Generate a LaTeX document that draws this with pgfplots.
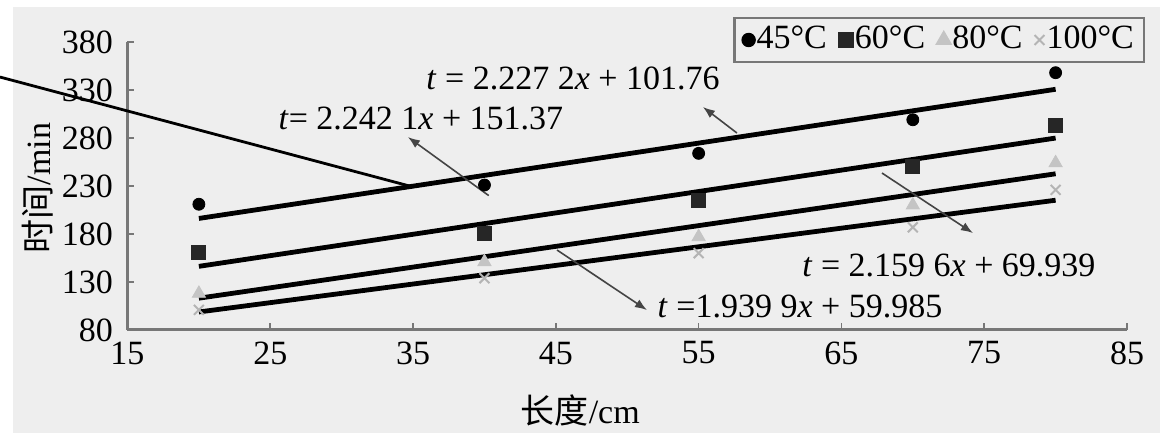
\documentclass[border=0pt]{standalone}
\usepackage{pgfplots}
\pgfplotsset{compat=1.18}
\usetikzlibrary{arrows.meta}
\usepackage{fontspec}
\setmainfont{Liberation Serif}
\newfontfamily\cjk{Noto Sans CJK SC}
\definecolor{bg}{HTML}{EEEEEE}
\definecolor{axisgray}{HTML}{777777}
\definecolor{arrowgray}{HTML}{444444}
\definecolor{trimark}{HTML}{C4C4C4}
\definecolor{xmark}{HTML}{B4B4B4}
\newcommand{\lbl}{\fontsize{17}{20}\selectfont}
\begin{document}
\lbl
\begin{tikzpicture}
\useasboundingbox (-63.75pt,-51.5pt) rectangle (522.75pt,165pt);
\fill[white] (-63.75pt,-51.5pt) rectangle (522.75pt,165pt);
\fill[bg] (-57.25pt,-51.5pt) rectangle (516.25pt,161.5pt);
\begin{axis}[
  scale only axis,
  width=499.75pt, height=144pt,
  xmin=15, xmax=85, ymin=80, ymax=380,
  xtick={15,25,...,85}, ytick={80,130,...,380},
  axis lines=left,
  axis line style={-, axisgray, line width=1.5pt},
  tick align=inside,
  major tick length=3.5pt,
  tick style={axisgray, line width=0.8pt},
  tick label style={font=\lbl, text=black},
  /pgf/number format/assume math mode=true,
  yticklabel shift=1.5pt,
  label style={font=\lbl},
  xlabel={{\cjk 长度}/cm},
  ylabel={{\cjk 时间}/min},
  xlabel style={at={(rel axis cs:0.453,0)}, anchor=center, yshift=-40pt},
  ylabel style={at={(rel axis cs:-0.0895,0.493)}, anchor=center},
  clip=false,
  legend columns=4,
  legend style={at={(1.018,1.087)}, anchor=north east, draw=axisgray,
    line width=1.2pt, fill=bg, font=\lbl, inner xsep=4pt, inner ysep=2pt,
    nodes={inner xsep=1pt},
    /tikz/every even column/.append style={column sep=5pt},
    /tikz/every odd column/.append style={column sep=0pt}},
  legend image code/.code={\draw[#1] plot coordinates {(0pt,0pt)};},
]
% measured points
\addplot[only marks, mark=*, mark size=3pt, black] coordinates {
  (20,211) (40,231) (55,264) (70,299) (80,348)};
\addlegendentry{45°C}
\addplot[only marks, mark=square*, mark size=3.5pt, black!85] coordinates {
  (20,161) (40,181) (55,215) (70,250) (80,293)};
\addlegendentry{60°C}
\addplot[only marks, mark=triangle*, mark size=3.8pt, trimark] coordinates {
  (20,118) (40,151) (55,177) (70,210) (80,254)};
\addlegendentry{80°C}
\addplot[only marks, mark=x, mark size=3.5pt, xmark, mark options={line width=1pt}] coordinates {
  (20,101) (40,134) (55,160) (70,187) (80,226)};
\addlegendentry{100°C}
% fitted lines
\addplot[black, line width=2.4pt, forget plot] coordinates {(20,196.21) (80,330.74)};
\addplot[black, line width=2.4pt, forget plot] coordinates {(20,146.30) (80,279.94)};
\addplot[black, line width=2.4pt, forget plot] coordinates {(20,113.13) (80,242.71)};
\addplot[black, line width=2.4pt, forget plot] coordinates {(20,98.78) (80,215.18)};
% stray leader line
\draw[black, line width=1.4pt] (axis cs:6.07,343.5) -- (axis cs:35.0,229.0);
% equation callouts
\draw[arrowgray, line width=0.8pt, -{Latex[length=6pt,width=4.5pt]}] (axis cs:57.68,285.2) -- (axis cs:55.30,312.3);
\draw[arrowgray, line width=0.8pt, -{Latex[length=6pt,width=4.5pt]}] (axis cs:40.3,220.0) -- (axis cs:34.64,281.0);
\draw[arrowgray, line width=0.8pt, -{Latex[length=6pt,width=4.5pt]}] (axis cs:67.84,243.5) -- (axis cs:74.21,181.0);
\draw[arrowgray, line width=0.8pt, -{Latex[length=6pt,width=4.5pt]}] (axis cs:45.08,163.3) -- (axis cs:51.38,100.8);
\node[font=\lbl, inner sep=0pt] at (axis cs:46.2,342.5) {\textit{t} = 2.227 2\textit{x} + 101.76};
\node[font=\lbl, inner sep=0pt] at (axis cs:35.55,300.8) {\textit{t}= 2.242 1\textit{x} + 151.37};
\node[font=\lbl, inner sep=0pt] at (axis cs:72.53,146.7) {\textit{t} = 2.159 6\textit{x} + 69.939};
\node[font=\lbl, inner sep=0pt] at (axis cs:62.1,105.0) {\textit{t} =1.939 9\textit{x} + 59.985};
\end{axis}
\end{tikzpicture}
\end{document}
